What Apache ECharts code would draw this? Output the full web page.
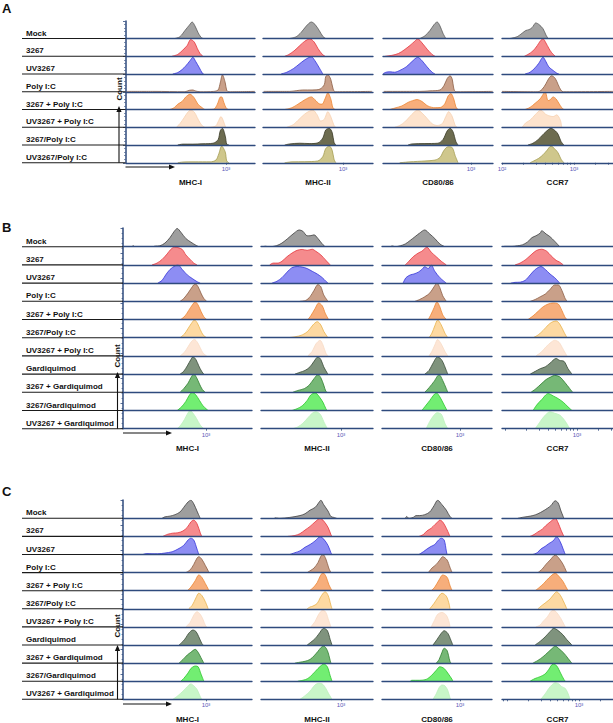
<!DOCTYPE html>
<html><head><meta charset="utf-8">
<script src="https://cdn.jsdelivr.net/npm/echarts@6/dist/echarts.min.js"></script>
<style>html,body{margin:0;padding:0;background:#fff}#c{width:613px;height:723px}</style>
</head><body><div id="c"></div>
<script>
// ---------------- DATA ----------------
const markers = ['MHC-I', 'MHC-II', 'CD80/86', 'CCR7'];
const rowsA = ['Mock', '3267', 'UV3267', 'Poly I:C', '3267 + Poly I:C', 'UV3267 + Poly I:C', '3267/Poly I:C', 'UV3267/Poly I:C'];
const rowsB = ['Mock', '3267', 'UV3267', 'Poly I:C', '3267 + Poly I:C', '3267/Poly I:C', 'UV3267 + Poly I:C', 'Gardiquimod', '3267 + Gardiquimod', '3267/Gardiquimod', 'UV3267 + Gardiquimod'];
const rowsC = ['Mock', '3267', 'UV3267', 'Poly I:C', '3267 + Poly I:C', '3267/Poly I:C', 'UV3267 + Poly I:C', 'Gardiquimod', '3267 + Gardiquimod', '3267/Gardiquimod', 'UV3267 + Gardiquimod'];
const decadeTicks = [2, 3];
const decadeTickLabels = ['10\u00b2', '10\u00b3'];
// which decades are labelled under each column of each panel
const labelledDecadesA = [[3], [3], [3], [2, 3]];
const labelledDecadesB = [[3], [3], [3], [3]];
const labelledDecadesC = [[3], [3], [3], [3]];

// histograms: [log10 fluorescence, count normalised to mode]
const A_MHCI = [
 [[2.29,0],[2.36,.1],[2.43,.45],[2.49,.75],[2.53,.93],[2.57,.7],[2.61,.35],[2.65,.08],[2.68,0]],
 [[2.25,0],[2.33,.1],[2.40,.35],[2.46,.6],[2.51,.94],[2.56,.8],[2.60,.45],[2.64,.15],[2.68,0]],
 [[2.26,0],[2.33,.08],[2.39,.25],[2.44,.45],[2.50,.75],[2.54,.94],[2.58,.7],[2.63,.35],[2.67,.05],[2.69,0]],
 [[1.62,.02],[2.0,.02],[2.43,0],[2.49,.08],[2.54,.1],[2.58,.04],[2.64,0],[2.83,.02],[2.89,.1],[2.92,.5],[2.95,.96],[2.99,.5],[3.01,.08],[3.04,0],[3.40,.02]],
 [[2.22,0],[2.28,.1],[2.33,.3],[2.39,.45],[2.44,.7],[2.50,.86],[2.56,.65],[2.61,.3],[2.67,.1],[2.71,0],[2.83,.02],[2.88,.3],[2.92,.7],[2.94,.71],[2.97,.4],[3.0,.1],[3.03,0]],
 [[2.31,0],[2.36,.2],[2.42,.55],[2.47,.85],[2.51,.97],[2.56,.85],[2.60,.55],[2.64,.25],[2.68,.05],[2.71,0],[2.85,.05],[2.89,.3],[2.93,.6],[2.96,.4],[2.99,.05],[3.0,0]],
 [[2.33,0],[2.40,.05],[2.54,.05],[2.68,.07],[2.82,.1],[2.89,.3],[2.92,.8],[2.95,.94],[2.99,.5],[3.01,.05],[3.04,0]],
 [[2.33,0],[2.40,.04],[2.57,.05],[2.78,.05],[2.86,.15],[2.90,.5],[2.94,.94],[2.99,.6],[3.01,.1],[3.04,0]]
];
const A_MHCII = [
 [[2.26,0],[2.35,.1],[2.42,.35],[2.49,.7],[2.56,.93],[2.61,.8],[2.67,.45],[2.72,.12],[2.76,0]],
 [[2.19,0],[2.24,.08],[2.32,.3],[2.40,.6],[2.47,.85],[2.54,.98],[2.60,.8],[2.65,.45],[2.71,.12],[2.75,0]],
 [[2.14,0],[2.22,.1],[2.31,.3],[2.39,.55],[2.47,.8],[2.56,.97],[2.61,.75],[2.67,.35],[2.72,0]],
 [[1.90,.02],[2.26,.02],[2.35,.06],[2.44,.1],[2.57,.1],[2.68,.15],[2.74,.4],[2.76,.85],[2.79,.96],[2.83,.7],[2.86,.2],[2.89,0],[3.40,.02]],
 [[2.19,0],[2.29,.1],[2.375,.3],[2.47,.55],[2.56,.71],[2.61,.55],[2.67,.32],[2.71,.3],[2.75,.6],[2.79,.94],[2.83,.6],[2.86,.1],[2.89,0]],
 [[2.22,0],[2.31,.15],[2.39,.45],[2.47,.75],[2.53,.9],[2.58,.97],[2.64,.7],[2.69,.35],[2.74,.45],[2.79,.88],[2.83,.6],[2.875,.1],[2.90,0]],
 [[2.19,0],[2.26,.06],[2.40,.1],[2.54,.08],[2.65,.12],[2.72,.4],[2.76,.85],[2.81,.94],[2.85,.7],[2.875,.15],[2.90,0]],
 [[2.19,0],[2.29,.05],[2.47,.06],[2.65,.1],[2.72,.35],[2.76,.8],[2.81,.94],[2.85,.7],[2.875,.2],[2.90,0]]
];
const A_CD8086 = [
 [[2.29,0],[2.36,.15],[2.43,.45],[2.49,.8],[2.53,.93],[2.57,.7],[2.61,.3],[2.65,0]],
 [[1.81,0],[1.90,.05],[1.99,.15],[2.07,.35],[2.15,.6],[2.22,.85],[2.26,.98],[2.32,.75],[2.39,.4],[2.46,.1],[2.5,0]],
 [[1.78,.02],[1.82,.1],[1.875,.12],[1.94,.1],[2.01,.2],[2.10,.4],[2.18,.7],[2.26,.94],[2.32,.75],[2.39,.4],[2.46,.1],[2.5,0]],
 [[1.79,.02],[2.29,.02],[2.43,.05],[2.57,.1],[2.625,.35],[2.67,.75],[2.71,.9],[2.74,.7],[2.76,.2],[2.79,0],[3.30,.02]],
 [[1.875,0],[1.94,.08],[2.04,.2],[2.125,.4],[2.19,.5],[2.25,.56],[2.32,.45],[2.40,.2],[2.5,.1],[2.58,.12],[2.64,.35],[2.68,.75],[2.72,.9],[2.76,.6],[2.79,.15],[2.82,0]],
 [[1.94,0],[2.01,.1],[2.08,.3],[2.15,.6],[2.21,.85],[2.26,.97],[2.32,.8],[2.39,.5],[2.46,.2],[2.53,.1],[2.60,.2],[2.65,.6],[2.69,.88],[2.74,.6],[2.78,.1],[2.81,0]],
 [[2.125,0],[2.18,.06],[2.36,.08],[2.54,.1],[2.61,.3],[2.67,.8],[2.71,.94],[2.75,.75],[2.79,.2],[2.82,0]],
 [[2.01,0],[2.15,.05],[2.36,.1],[2.5,.15],[2.57,.3],[2.625,.7],[2.68,.9],[2.74,.85],[2.78,.4],[2.82,0]]
];
const A_CCR7 = [
 [[2.11,0],[2.17,.05],[2.22,.12],[2.28,.3],[2.33,.45],[2.375,.5],[2.42,.62],[2.47,.88],[2.51,.8],[2.57,.55],[2.61,.2],[2.64,0]],
 [[2.31,0],[2.36,.1],[2.43,.3],[2.49,.6],[2.53,.85],[2.57,.98],[2.61,.75],[2.65,.45],[2.69,.2],[2.74,0]],
 [[2.32,0],[2.39,.1],[2.46,.35],[2.51,.6],[2.57,.94],[2.61,.7],[2.65,.4],[2.71,.2],[2.76,.05],[2.79,0]],
 [[2.0,.02],[2.5,0],[2.56,.15],[2.61,.45],[2.65,.75],[2.69,.9],[2.74,.75],[2.78,.4],[2.82,.08],[2.85,0],[3.54,.02]],
 [[2.32,0],[2.39,.12],[2.46,.35],[2.53,.6],[2.60,.99],[2.64,.5],[2.67,.55],[2.71,.71],[2.75,.6],[2.79,.35],[2.83,.1],[2.86,0]],
 [[2.28,0],[2.33,.25],[2.39,.4],[2.46,.7],[2.54,.97],[2.60,.75],[2.65,.65],[2.71,.6],[2.76,.7],[2.81,.4],[2.83,0]],
 [[2.36,0],[2.43,.1],[2.5,.3],[2.56,.55],[2.61,.75],[2.68,.94],[2.74,.8],[2.78,.6],[2.82,.2],[2.86,0]],
 [[2.39,0],[2.44,.1],[2.51,.25],[2.57,.45],[2.625,.7],[2.68,.94],[2.74,.75],[2.78,.55],[2.82,.2],[2.86,0]]
];

const B_MHCI = [
 [[1.97,0],[1.99,.05],[2.01,0],[2.26,0],[2.29,.03],[2.36,.05],[2.43,.2],[2.5,.5],[2.56,.85],[2.60,1.0],[2.65,.8],[2.72,.45],[2.79,.25],[2.86,.08],[2.90,0]],
 [[2.25,0],[2.32,.1],[2.39,.3],[2.46,.6],[2.51,.85],[2.56,.97],[2.61,.95],[2.67,.85],[2.72,.55],[2.78,.3],[2.83,.1],[2.875,0]],
 [[2.33,0],[2.39,.15],[2.44,.45],[2.5,.75],[2.57,.95],[2.61,1.0],[2.67,.75],[2.74,.45],[2.81,.25],[2.875,.08],[2.92,0]],
 [[2.64,0],[2.69,.15],[2.75,.45],[2.81,.8],[2.85,.96],[2.89,.8],[2.93,.45],[2.97,.15],[3.01,0]],
 [[2.65,0],[2.71,.2],[2.76,.5],[2.81,.8],[2.85,.97],[2.89,.8],[2.93,.45],[2.97,.15],[3.01,0]],
 [[2.64,0],[2.70,.2],[2.75,.5],[2.80,.8],[2.84,.97],[2.88,.8],[2.92,.45],[2.96,.15],[3.01,0]],
 [[2.64,0],[2.70,.2],[2.75,.5],[2.80,.8],[2.84,.9],[2.88,.75],[2.92,.45],[2.96,.15],[3.01,0]],
 [[2.64,0],[2.69,.15],[2.74,.45],[2.79,.8],[2.82,.95],[2.86,.8],[2.90,.45],[2.94,.15],[2.97,0]],
 [[2.64,0],[2.69,.2],[2.75,.5],[2.79,.8],[2.83,1.0],[2.87,.8],[2.91,.45],[2.95,.15],[2.99,0]],
 [[2.60,0],[2.66,.2],[2.72,.5],[2.77,.85],[2.81,1.0],[2.86,.85],[2.91,.55],[2.96,.25],[3.03,0]],
 [[2.60,0],[2.65,.2],[2.70,.5],[2.74,.8],[2.78,1.0],[2.82,.85],[2.87,.55],[2.92,.2],[2.97,0]]
];
const B_MHCII = [
 [[1.94,.03],[2.01,0],[2.10,.05],[2.18,.2],[2.26,.45],[2.35,.75],[2.42,.92],[2.47,.85],[2.53,.6],[2.57,.6],[2.625,.65],[2.68,.45],[2.74,.15],[2.78,0]],
 [[2.01,0],[2.06,.1],[2.125,.1],[2.18,.2],[2.25,.45],[2.32,.65],[2.39,.8],[2.46,.85],[2.53,.8],[2.60,.86],[2.65,.75],[2.72,.55],[2.79,.25],[2.85,0]],
 [[2.04,0],[2.11,.1],[2.18,.3],[2.25,.6],[2.32,.85],[2.39,.91],[2.46,.88],[2.53,.8],[2.60,.65],[2.67,.5],[2.74,.3],[2.79,.1],[2.82,0]],
 [[2.43,0],[2.51,.05],[2.57,.25],[2.625,.6],[2.68,.92],[2.72,.8],[2.76,.35],[2.81,.05],[2.82,0]],
 [[2.54,0],[2.58,.2],[2.64,.6],[2.69,.91],[2.74,.75],[2.78,.35],[2.82,.05],[2.83,0]],
 [[2.26,0],[2.36,.05],[2.46,.15],[2.54,.35],[2.61,.7],[2.67,.88],[2.72,.7],[2.76,.35],[2.81,.05],[2.82,0]],
 [[2.54,0],[2.60,.25],[2.65,.65],[2.71,.86],[2.75,.6],[2.79,.15],[2.82,0]],
 [[2.36,0],[2.43,.1],[2.5,.2],[2.57,.4],[2.625,.7],[2.68,.95],[2.72,.8],[2.76,.4],[2.81,.05],[2.82,0]],
 [[2.33,0],[2.40,.1],[2.49,.2],[2.56,.4],[2.625,.75],[2.68,.97],[2.72,.8],[2.76,.4],[2.79,.05],[2.81,0]],
 [[2.32,0],[2.39,.1],[2.46,.25],[2.53,.55],[2.58,.85],[2.64,.97],[2.69,.8],[2.75,.45],[2.79,.1],[2.81,0]],
 [[2.33,0],[2.40,.1],[2.47,.3],[2.54,.6],[2.60,.85],[2.65,.93],[2.71,.8],[2.76,.4],[2.81,0]]
];
const B_CD8086 = [
 [[2.03,0],[2.06,.04],[2.10,0],[2.17,.05],[2.24,.15],[2.31,.35],[2.375,.55],[2.44,.75],[2.51,.92],[2.58,.7],[2.65,.45],[2.72,.15],[2.79,0]],
 [[2.24,0],[2.29,.2],[2.35,.45],[2.42,.65],[2.47,.75],[2.54,.97],[2.60,.7],[2.67,.45],[2.74,.2],[2.81,0]],
 [[2.21,0],[2.25,.3],[2.31,.45],[2.36,.5],[2.42,.6],[2.47,.75],[2.51,.9],[2.56,.8],[2.60,1.0],[2.65,.65],[2.72,.3],[2.81,0]],
 [[2.375,0],[2.44,.1],[2.51,.25],[2.58,.45],[2.64,.8],[2.68,1.0],[2.72,.75],[2.76,.3],[2.81,0]],
 [[2.56,0],[2.60,.3],[2.64,.65],[2.68,.97],[2.72,.7],[2.76,.25],[2.81,0]],
 [[2.57,0],[2.61,.25],[2.65,.65],[2.69,.97],[2.74,.7],[2.79,.25],[2.83,0]],
 [[2.57,0],[2.61,.25],[2.65,.6],[2.69,.9],[2.74,.65],[2.79,.25],[2.83,0]],
 [[2.51,0],[2.57,.2],[2.625,.6],[2.69,.95],[2.75,.75],[2.81,.2],[2.83,0]],
 [[2.51,0],[2.57,.25],[2.64,.6],[2.71,.97],[2.76,.65],[2.81,.2],[2.83,0]],
 [[2.47,0],[2.53,.3],[2.58,.55],[2.625,.8],[2.67,.97],[2.72,.75],[2.78,.3],[2.82,0]],
 [[2.53,0],[2.58,.4],[2.64,.75],[2.68,.88],[2.74,.8],[2.79,.3],[2.83,0]]
];
const B_CCR7 = [
 [[1.97,0],[2.0,.02],[2.10,.02],[2.17,.05],[2.24,.1],[2.31,.25],[2.375,.5],[2.43,.6],[2.49,.75],[2.51,.88],[2.57,.7],[2.625,.55],[2.69,.3],[2.76,0]],
 [[2.14,0],[2.21,.1],[2.29,.3],[2.375,.6],[2.44,.8],[2.51,.86],[2.58,.75],[2.64,.5],[2.71,.25],[2.76,.15],[2.81,0]],
 [[2.08,0],[2.14,.04],[2.21,.05],[2.28,.15],[2.35,.45],[2.42,.75],[2.5,.91],[2.56,.75],[2.625,.5],[2.69,.3],[2.76,0]],
 [[2.35,0],[2.42,.1],[2.49,.25],[2.56,.4],[2.625,.65],[2.69,.9],[2.74,.9],[2.79,.6],[2.83,.2],[2.86,0]],
 [[2.32,0],[2.39,.2],[2.46,.45],[2.53,.7],[2.60,.85],[2.67,.91],[2.74,.85],[2.79,.5],[2.83,.15],[2.86,0]],
 [[2.39,0],[2.46,.15],[2.53,.4],[2.60,.7],[2.65,.85],[2.71,.92],[2.76,.75],[2.82,.3],[2.86,0]],
 [[2.43,0],[2.5,.2],[2.57,.5],[2.64,.75],[2.69,.86],[2.75,.75],[2.81,.35],[2.86,0]],
 [[2.35,0],[2.42,.15],[2.49,.3],[2.56,.4],[2.625,.6],[2.71,.86],[2.76,.75],[2.82,.7],[2.875,.3],[2.93,0]],
 [[2.36,0],[2.43,.2],[2.5,.45],[2.57,.7],[2.64,.85],[2.69,.93],[2.76,.85],[2.83,.55],[2.90,.2],[2.94,0]],
 [[2.39,0],[2.44,.3],[2.51,.6],[2.60,.93],[2.67,.8],[2.74,.65],[2.81,.45],[2.875,.2],[2.93,0]],
 [[2.42,0],[2.49,.4],[2.56,.75],[2.625,.93],[2.69,.85],[2.76,.75],[2.83,.45],[2.90,0]]
];

const C_MHCI = [
 [[2.39,0],[2.43,.08],[2.5,.12],[2.57,.2],[2.64,.35],[2.69,.6],[2.75,.9],[2.79,1.0],[2.83,.8],[2.875,.4],[2.92,0]],
 [[2.40,0],[2.47,.12],[2.54,.18],[2.61,.2],[2.68,.3],[2.74,.5],[2.79,.8],[2.83,.9],[2.875,.7],[2.92,.2],[2.94,0]],
 [[2.125,0],[2.17,.05],[2.25,.04],[2.33,.04],[2.43,.08],[2.53,.15],[2.61,.3],[2.69,.5],[2.75,.8],[2.79,.9],[2.83,.8],[2.875,.3],[2.90,0]],
 [[2.72,0],[2.78,.15],[2.83,.45],[2.875,.8],[2.90,.88],[2.94,.75],[2.99,.4],[3.03,.1],[3.04,0]],
 [[2.74,0],[2.79,.2],[2.85,.55],[2.90,.87],[2.94,.75],[2.99,.4],[3.03,.1],[3.04,0]],
 [[2.76,0],[2.81,.2],[2.86,.6],[2.90,.86],[2.94,.75],[2.99,.4],[3.03,0]],
 [[2.72,0],[2.78,.25],[2.83,.65],[2.875,.84],[2.92,.7],[2.96,.4],[2.99,.1],[3.01,0]],
 [[2.625,0],[2.68,.2],[2.72,.4],[2.76,.65],[2.82,.83],[2.86,.75],[2.90,.45],[2.94,.1],[2.96,0]],
 [[2.625,0],[2.68,.2],[2.74,.45],[2.79,.6],[2.85,.76],[2.89,.6],[2.93,.3],[2.97,0]],
 [[2.65,0],[2.69,.15],[2.75,.45],[2.79,.7],[2.85,.84],[2.89,.8],[2.93,.4],[2.97,0]],
 [[2.54,0],[2.61,.2],[2.68,.45],[2.74,.7],[2.79,.85],[2.83,.75],[2.875,.55],[2.92,.15],[2.94,0]]
];
const C_MHCII = [
 [[2.08,.03],[2.15,0],[2.29,.05],[2.43,.15],[2.5,.25],[2.57,.45],[2.64,.6],[2.68,.8],[2.72,1.0],[2.76,.75],[2.82,.4],[2.86,.1],[2.90,.05],[2.94,0]],
 [[2.26,0],[2.36,.05],[2.43,.15],[2.5,.35],[2.57,.55],[2.64,.8],[2.71,1.0],[2.76,.85],[2.82,.5],[2.86,.1],[2.875,0]],
 [[2.29,0],[2.36,.1],[2.43,.2],[2.5,.4],[2.57,.55],[2.64,.75],[2.71,.98],[2.76,.85],[2.82,.5],[2.86,.1],[2.875,0]],
 [[2.53,0],[2.57,.1],[2.625,.25],[2.68,.55],[2.72,.9],[2.75,1.0],[2.79,.75],[2.83,.25],[2.86,0]],
 [[2.56,0],[2.61,.15],[2.67,.45],[2.71,.8],[2.75,.99],[2.79,.8],[2.83,.35],[2.875,0]],
 [[2.53,0],[2.57,.1],[2.61,.15],[2.67,.3],[2.71,.6],[2.75,.85],[2.78,.94],[2.82,.75],[2.86,.2],[2.875,0]],
 [[2.58,0],[2.64,.3],[2.69,.7],[2.75,.93],[2.79,.8],[2.83,.35],[2.86,0]],
 [[2.53,0],[2.58,.15],[2.64,.35],[2.69,.6],[2.76,.92],[2.81,.8],[2.85,.3],[2.875,0]],
 [[2.36,0],[2.43,.05],[2.5,.1],[2.57,.2],[2.625,.4],[2.68,.65],[2.72,.85],[2.76,.94],[2.81,.7],[2.85,.15],[2.86,0]],
 [[2.40,0],[2.47,.05],[2.54,.15],[2.61,.4],[2.68,.7],[2.72,.85],[2.76,.95],[2.81,.8],[2.85,.3],[2.875,0]],
 [[2.43,0],[2.5,.2],[2.57,.45],[2.64,.8],[2.69,.88],[2.74,.85],[2.79,.6],[2.83,.3],[2.875,0]]
];
const C_CD8086 = [
 [[2.24,0],[2.26,.1],[2.29,0],[2.35,.05],[2.39,.15],[2.44,.15],[2.51,.2],[2.58,.35],[2.64,.7],[2.69,1.0],[2.75,.75],[2.81,.45],[2.86,.1],[2.89,0]],
 [[2.43,0],[2.49,.1],[2.54,.3],[2.60,.45],[2.65,.65],[2.68,.75],[2.72,.9],[2.76,.8],[2.81,.45],[2.85,.1],[2.86,0]],
 [[2.43,0],[2.49,.15],[2.54,.3],[2.60,.45],[2.65,.55],[2.69,.75],[2.74,.9],[2.78,.8],[2.81,.2],[2.82,0]],
 [[2.56,0],[2.61,.25],[2.67,.45],[2.72,.7],[2.76,.88],[2.82,.7],[2.86,.3],[2.89,0]],
 [[2.60,0],[2.65,.2],[2.71,.6],[2.76,.87],[2.82,.75],[2.86,.3],[2.89,0]],
 [[2.58,0],[2.64,.3],[2.69,.6],[2.75,.86],[2.81,.7],[2.85,.25],[2.86,0]],
 [[2.60,0],[2.65,.4],[2.69,.7],[2.75,.8],[2.81,.65],[2.85,.25],[2.86,0]],
 [[2.625,0],[2.68,.3],[2.74,.65],[2.78,.79],[2.83,.65],[2.875,.25],[2.90,0]],
 [[2.67,0],[2.71,.2],[2.75,.6],[2.78,.82],[2.82,.7],[2.86,.1],[2.875,0]],
 [[2.31,0],[2.33,.05],[2.44,.05],[2.53,.1],[2.60,.3],[2.67,.6],[2.72,.8],[2.78,.7],[2.83,.45],[2.89,.1],[2.90,0]],
 [[2.625,0],[2.67,.3],[2.71,.65],[2.75,.79],[2.79,.75],[2.83,.5],[2.86,.1],[2.875,0]]
];
const C_CCR7 = [
 [[2.15,0],[2.21,.05],[2.29,.1],[2.36,.15],[2.43,.25],[2.5,.4],[2.56,.55],[2.61,.7],[2.67,.97],[2.71,.85],[2.75,.4],[2.78,.1],[2.79,0]],
 [[2.32,0],[2.375,.1],[2.43,.25],[2.49,.4],[2.54,.6],[2.60,.8],[2.67,1.0],[2.71,.75],[2.75,.35],[2.79,0]],
 [[2.36,0],[2.42,.1],[2.47,.3],[2.53,.45],[2.58,.6],[2.64,.75],[2.69,.98],[2.74,.7],[2.78,.3],[2.81,0]],
 [[2.43,0],[2.49,.2],[2.54,.45],[2.60,.7],[2.67,.97],[2.72,.8],[2.78,.45],[2.82,.1],[2.83,0]],
 [[2.39,0],[2.44,.15],[2.51,.4],[2.58,.7],[2.67,.96],[2.72,.8],[2.78,.5],[2.82,.2],[2.85,0]],
 [[2.43,0],[2.49,.2],[2.54,.35],[2.60,.55],[2.64,.75],[2.69,.94],[2.74,.75],[2.78,.45],[2.82,.1],[2.83,0]],
 [[2.40,0],[2.46,.1],[2.5,.3],[2.56,.55],[2.60,.8],[2.64,.93],[2.69,.8],[2.75,.45],[2.79,.15],[2.81,0]],
 [[2.39,0],[2.46,.2],[2.53,.45],[2.60,.75],[2.65,.92],[2.71,.8],[2.78,.55],[2.83,.3],[2.89,.05],[2.90,0]],
 [[2.36,0],[2.43,.15],[2.5,.35],[2.57,.6],[2.625,.8],[2.67,.94],[2.72,.8],[2.79,.55],[2.85,.25],[2.90,0]],
 [[2.32,0],[2.39,.15],[2.46,.25],[2.53,.4],[2.58,.65],[2.64,.95],[2.69,.85],[2.75,.4],[2.79,.1],[2.81,0]],
 [[2.47,0],[2.53,.3],[2.58,.6],[2.625,.8],[2.67,.92],[2.72,.85],[2.76,.7],[2.81,.6],[2.85,.3],[2.875,0]]
];

// ---------------- STYLE / LAYOUT ----------------
const fillA = ['#a3a3a3','#f58b8d','#8d8df3','#c9a089','#f7ae7b','#fde3cd','#6d6c50','#cfc78c'];
const lineA = ['#5a5a5a','#e4363c','#3535d8','#8c5d44','#ec8532','#f6d2b2','#3a3a26','#a59d52'];
const fillBC = ['#9e9e9e','#f58b8d','#8d8df3','#c9a089','#f7ae7b','#fdd9a2','#fde6d6','#7f937d','#76b876','#72ee72','#c8f6c8'];
const lineBC = ['#3f3f3f','#e4363c','#3535d8','#8c5d44','#ec8532','#e9b24c','#f7dcc6','#394a37','#2f7d2f','#2bc52b','#bdf0bd'];

const NAVY = '#2e4a7d';
const PX_PER_DECADE = 72;
const FONT = '"Liberation Sans", Arial, Helvetica, sans-serif';

const panels = [
 {letter:'A', letterY:8, rows:rowsA, hist:[A_MHCI,A_MHCII,A_CD8086,A_CCR7], labelled:labelledDecadesA, fill:fillA, line:lineA,
  base0:38.5, step:17.75, axisX:125.5, axisTop:21,
  cols:[[126,255,226],[263,373,343],[383,493,471],[502,613,574]],
  countY:89, countX:119, arrowX:119, arrowTop:106, hArrowY:167, hArrowX1:175},
 {letter:'B', letterY:227, rows:rowsB, hist:[B_MHCI,B_MHCII,B_CD8086,B_CCR7], labelled:labelledDecadesB, fill:fillBC, line:lineBC,
  base0:246.7, step:18.2, axisX:123, axisTop:228,
  cols:[[123,252,206],[261,373,341],[382,492,460],[502,613,577]],
  countY:356, countX:117, arrowX:117.5, arrowTop:372, hArrowY:433, hArrowX1:172},
 {letter:'C', letterY:491, rows:rowsC, hist:[C_MHCI,C_MHCII,C_CD8086,C_CCR7], labelled:labelledDecadesC, fill:fillBC, line:lineBC,
  base0:518.3, step:18.1, axisX:123, axisTop:500,
  cols:[[123,252,206],[261,373,341],[382,492,460],[502,613,579]],
  countY:626, countX:117, arrowX:117.5, arrowTop:645, hArrowY:704, hArrowX1:172}
];

const grids = [], xAxes = [], yAxes = [], series = [], graphics = [];

function txt(text, x, y, size, opts) {
  return Object.assign({type:'text', x:x, y:y, silent:true, z:100,
    style:{text:text, font:'bold ' + size + 'px ' + FONT, fill:'#111',
      align:'left', verticalAlign:'middle', textAlign:'left', textVerticalAlign:'middle'}}, opts || {});
}
function seg(x1, y1, x2, y2, color, w) {
  return {type:'line', silent:true, z:90, shape:{x1:x1, y1:y1, x2:x2, y2:y2}, style:{stroke:color, lineWidth:w}};
}

panels.forEach(function (p) {
  const n = p.rows.length;
  const lastBase = p.base0 + p.step * (n - 1);
  graphics.push(txt(p.letter, 2, p.letterY, 13));

  p.rows.forEach(function (name, r) {
    const base = p.base0 + p.step * r;
    const isLast = r === n - 1;
    graphics.push(txt(name, 26, base - 5.5, 8));
    graphics.push(seg(22, base, p.axisX, base, '#1a1a1a', 1.1));

    p.cols.forEach(function (col, c) {
      const L = col[0], R = col[1], P = col[2];
      const gi = grids.length;
      const xmin = 3 - (P - L) / PX_PER_DECADE, xmax = 3 + (R - P) / PX_PER_DECADE;
      grids.push({left:L, top:base - p.step, width:R - L, height:p.step, containLabel:false, outerBoundsMode:'none'});
      const labelVals = p.labelled[c].slice();
      let tickVals = labelVals.slice();
      if (c === 3) {
        tickVals = [];
        for (let d = 1; d <= 3; d++) for (let k = 1; k <= 9; k++) {
          const v = d + Math.log10(k);
          if (v >= xmin - 1e-6 && v <= xmax + 1e-6) tickVals.push(v);
        }
      }
      xAxes.push({
        gridIndex:gi, type:'value', min:xmin, max:xmax, z:5,
        axisLine:{show:true, onZero:true, lineStyle:{color:NAVY, width:1.3}},
        axisTick:{show:isLast, customValues:tickVals, length:2, lineStyle:{color:NAVY, width:0.8}},
        axisLabel:{show:isLast, customValues:labelVals, margin:3, fontSize:6, color:'#5c5cb8', fontFamily:FONT,
          formatter:function (v) { const i = decadeTicks.indexOf(Math.round(v)); return i >= 0 ? decadeTickLabels[i] : ''; }},
        splitLine:{show:false},
        name:isLast ? markers[c] : '', nameLocation:'middle', nameGap:16,
        nameTextStyle:{fontSize:8, fontWeight:'bold', color:'#111', fontFamily:FONT}
      });
      yAxes.push({gridIndex:gi, type:'value', min:0, max:1, show:false});
      series.push({
        type:'line', xAxisIndex:gi, yAxisIndex:gi, data:p.hist[c][r], symbol:'none', smooth:0.3,
        silent:true, animation:false, clip:true, z:2,
        lineStyle:{color:p.line[r], width:0.8},
        areaStyle:{color:p.fill[r], opacity:1}
      });
    });
  });

  // Count axis (vertical line with ticks)
  const gi = grids.length;
  grids.push({left:p.axisX, top:p.axisTop, width:1, height:lastBase - p.axisTop, containLabel:false, outerBoundsMode:'none'});
  xAxes.push({gridIndex:gi, type:'value', show:false, min:0, max:1});
  yAxes.push({gridIndex:gi, type:'value', min:0, max:40, interval:5, z:6,
    axisLine:{show:true, lineStyle:{color:NAVY, width:1.5}},
    axisTick:{show:true, length:2.5, lineStyle:{color:NAVY, width:0.8}},
    minorTick:{show:true, splitNumber:5, length:1.5, lineStyle:{color:NAVY, width:0.6}},
    axisLabel:{show:false}, splitLine:{show:false}});
  series.push({type:'line', xAxisIndex:gi, yAxisIndex:gi, data:[], silent:true});

  // Count label and arrows
  graphics.push(txt('Count', p.countX, p.countY, 8, {rotation:Math.PI / 2,
    style:{text:'Count', font:'bold 8px ' + FONT, fill:'#111', align:'center', verticalAlign:'middle', textAlign:'center', textVerticalAlign:'middle'}}));
  graphics.push(seg(p.arrowX, lastBase, p.arrowX, p.arrowTop + 5, '#111', 1.1));
  graphics.push({type:'polygon', silent:true, z:90, shape:{points:[[p.arrowX, p.arrowTop], [p.arrowX - 2.6, p.arrowTop + 6], [p.arrowX + 2.6, p.arrowTop + 6]]}, style:{fill:'#111'}});
  graphics.push(seg(p.axisX, p.hArrowY, p.hArrowX1 - 5, p.hArrowY, '#111', 1.1));
  graphics.push({type:'polygon', silent:true, z:90, shape:{points:[[p.hArrowX1, p.hArrowY], [p.hArrowX1 - 6, p.hArrowY - 2.6], [p.hArrowX1 - 6, p.hArrowY + 2.6]]}, style:{fill:'#111'}});
});

const chart = echarts.init(document.getElementById('c'), null, {renderer:'svg', width:613, height:723});
chart.setOption({
  animation:false,
  backgroundColor:'#ffffff',
  grid:grids, xAxis:xAxes, yAxis:yAxes, series:series, graphic:graphics
});
</script>
</body></html>
